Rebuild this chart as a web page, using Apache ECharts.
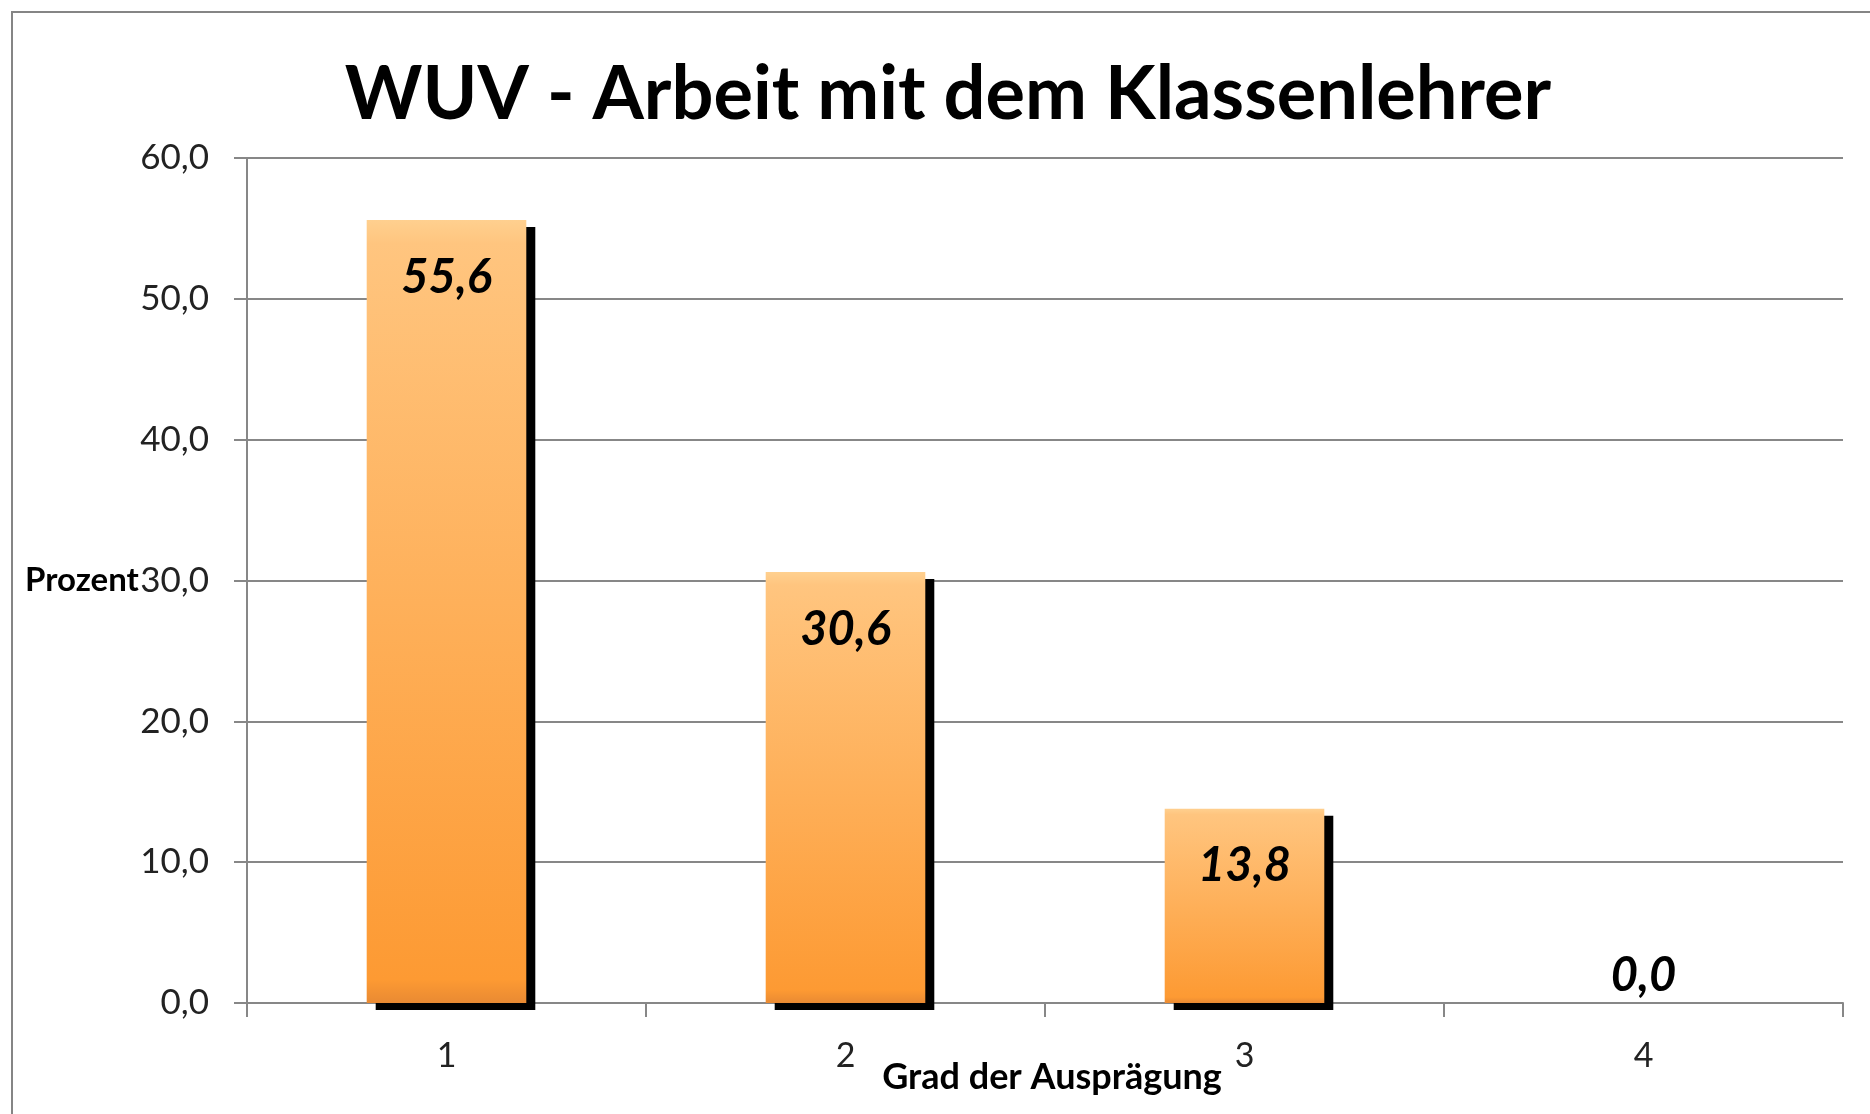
<!DOCTYPE html>
<html>
<head>
<meta charset="utf-8">
<script src="https://cdn.jsdelivr.net/npm/echarts@6/dist/echarts.min.js"></script>
<style>
html,body{margin:0;padding:0;background:#fff;}
#chart{width:1870px;height:1114px;}
</style>
</head>
<body>
<div id="chart"></div>
<script>
const titleText = 'WUV - Arbeit mit dem Klassenlehrer';
const categories = ['1', '2', '3', '4'];
const values = [55.6, 30.6, 13.8, 0.0];
const yTickLabels = ['0,0', '10,0', '20,0', '30,0', '40,0', '50,0', '60,0'];
const xAxisName = 'Grad der Ausprägung';
const yAxisName = 'Prozent';

const fmt = v => v.toFixed(1).replace('.', ',');
const FONT = 'Lato';
const GRID = '#878787';

const seriesData = values.map(v => v > 0 ? v : {
  value: v,
  label: { position: 'top', distance: 4 },
  itemStyle: { shadowColor: 'rgba(0,0,0,0)' }
});

const chart = echarts.init(document.getElementById('chart'), null, { renderer: 'canvas' });
chart.setOption({
  animation: false,
  backgroundColor: '#fff',
  title: {
    text: titleText,
    left: 948,
    top: 58,
    padding: 0,
    textAlign: 'center',
    textStyle: { fontFamily: FONT, fontWeight: 'bold', fontSize: 74, color: '#000' }
  },
  graphic: [{
    type: 'rect',
    shape: { x: 12, y: 12, width: 1880, height: 1130 },
    style: { fill: 'none', stroke: '#858585', lineWidth: 2 },
    silent: true, z: -10
  }],
  grid: { left: 247, right: 27, top: 158, bottom: 111, containLabel: false, outerBoundsMode: 'none' },
  xAxis: {
    type: 'category',
    data: categories,
    name: xAxisName,
    nameLocation: 'middle',
    nameGap: 74,
    nameMoveOverlap: false,
    nameTextStyle: { fontFamily: FONT, fontWeight: 'bold', fontSize: 36, color: '#000', verticalAlign: 'middle', padding: [0, 0, 0, 14] },
    axisLine: { show: true, lineStyle: { color: GRID, width: 2 } },
    axisTick: { show: true, length: 14, lineStyle: { color: GRID, width: 2 } },
    axisLabel: { margin: 36, fontFamily: FONT, fontSize: 34, color: '#222' },
    splitLine: { show: false }
  },
  yAxis: {
    type: 'value',
    min: 0, max: 60, interval: 10,
    name: yAxisName,
    nameLocation: 'middle',
    nameRotate: 0,
    nameGap: 222,
    nameMoveOverlap: false,
    nameTextStyle: { fontFamily: FONT, fontWeight: 'bold', fontSize: 33, color: '#000', align: 'left', verticalAlign: 'middle' },
    axisLine: { show: true, lineStyle: { color: GRID, width: 2 } },
    axisTick: { show: true, length: 13, lineStyle: { color: GRID, width: 2 } },
    axisLabel: {
      margin: 38, fontFamily: FONT, fontSize: 35, color: '#222',
      formatter: v => yTickLabels[Math.round(v / 10)]
    },
    splitLine: { show: true, lineStyle: { color: GRID, width: 2 } }
  },
  series: [{
    type: 'bar',
    data: seriesData,
    barWidth: '40%',
    itemStyle: {
      color: new echarts.graphic.LinearGradient(0, 0, 0, 1, [
        { offset: 0, color: '#FFD08F' },
        { offset: 0.03, color: '#FFC57F' },
        { offset: 0.97, color: '#FD9A33' },
        { offset: 1, color: '#E98A33' }
      ]),
      borderWidth: 0,
      shadowColor: '#000',
      shadowBlur: 0,
      shadowOffsetX: 9,
      shadowOffsetY: 7
    },
    label: {
      show: true,
      position: 'insideTop',
      distance: 34,
      formatter: p => fmt(p.value),
      fontFamily: FONT,
      fontWeight: 'bold',
      fontStyle: 'italic',
      fontSize: 47,
      color: '#000'
    }
  }]
});
</script>
</body>
</html>
